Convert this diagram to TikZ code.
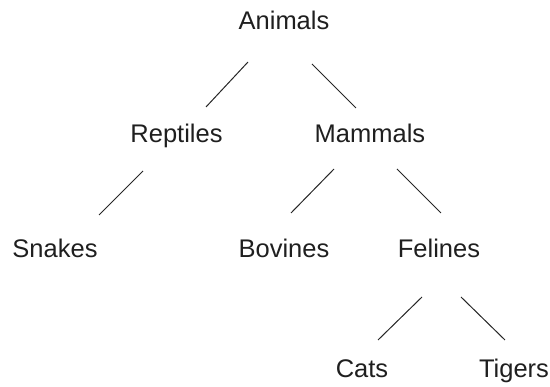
\documentclass[tikz,border=0pt]{standalone}
\usepackage{fontspec}
\setmainfont{Liberation Sans}
\begin{document}
\begin{tikzpicture}[x=1pt,y=-1pt,
  lbl/.style={anchor=base,inner sep=0pt,text=black!88,font=\fontsize{25.5}{30}\selectfont},
  link/.style={draw=black!85,line width=1pt}]
\useasboundingbox (0,0) rectangle (550,387);
\node[lbl] (A) at (284,30) {Animals};
\node[lbl] (R) at (176.5,143) {Reptiles};
\node[lbl] (M) at (370,143) {Mammals};
\node[lbl] (S) at (55,258) {Snakes};
\node[lbl] (B) at (284,258) {Bovines};
\node[lbl] (F) at (439,258) {Felines};
\node[lbl] (C) at (362,378) {Cats};
\node[lbl] (T) at (514,378) {Tigers};
\draw[link] ([shift={(-36,32)}]A.base) -- ([shift={(29.5,-36)}]R.base);
\draw[link] ([shift={(28,34)}]A.base) -- ([shift={(-14,-35)}]M.base);
\draw[link] ([shift={(-33.5,28)}]R.base) -- ([shift={(44,-43)}]S.base);
\draw[link] ([shift={(-36,26)}]M.base) -- ([shift={(7,-45)}]B.base);
\draw[link] ([shift={(27,26)}]M.base) -- ([shift={(2,-45)}]F.base);
\draw[link] ([shift={(-17,39)}]F.base) -- ([shift={(16,-38)}]C.base);
\draw[link] ([shift={(22,39)}]F.base) -- ([shift={(-9,-38)}]T.base);
\end{tikzpicture}
\end{document}
